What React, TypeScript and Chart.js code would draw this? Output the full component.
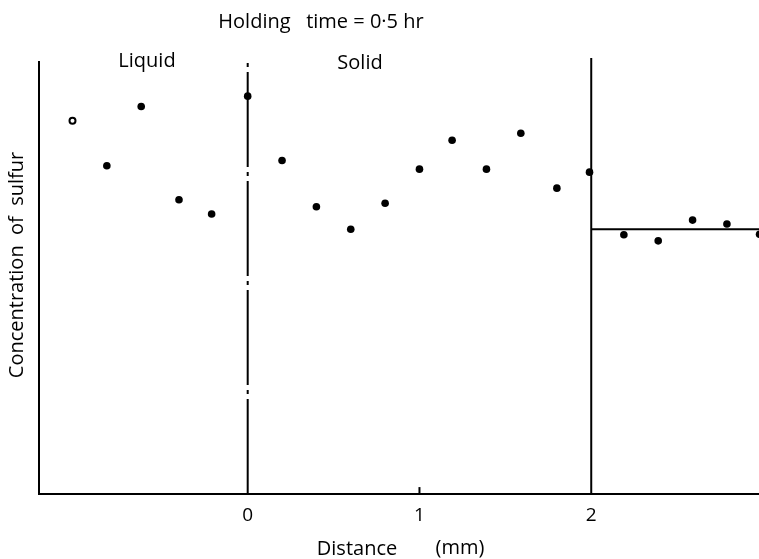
import React, { useEffect, useRef } from "react";
import { Chart, registerables } from "chart.js";

Chart.register(...registerables);

// Distance (mm) and sulfur concentration (relative units) for each sample
const liquidOpenX = [-1.02];
const liquidOpenY = [86.4];

const pointX = [-0.82, -0.62, -0.4, -0.21, 0.0, 0.2, 0.4, 0.6, 0.8, 1.0, 1.19, 1.39, 1.59, 1.8, 1.99, 2.19, 2.39, 2.59, 2.79, 2.98];
const pointY = [76.0, 89.7, 68.1, 64.8, 92.1, 77.2, 66.5, 61.3, 67.3, 75.2, 81.9, 75.2, 83.5, 70.8, 74.5, 60.0, 58.6, 63.4, 62.5, 60.1];

// Mean level beyond 2 mm
const plateauLevel = 61.3;
const plateauRange = [2.0, 3.0];

// Interface positions (mm)
const interfaceX = 0;
const boundaryX = 2;

const xTicks = [0, 1, 2];
const xMin = -1.215;
const xMax = 3.0;

const FONT = "'Open Sans', Lato, sans-serif";

const textPlugin = {
  id: "figureText",
  afterDraw(chart: Chart) {
    const ctx = chart.ctx;
    ctx.save();
    ctx.fillStyle = "#000";
    ctx.textAlign = "center";
    ctx.textBaseline = "middle";
    ctx.font = `20px ${FONT}`;
    ctx.fillText("Holding   time = 0·5 hr", 321, 22);
    ctx.fillText("Liquid", 147, 61);
    ctx.fillText("Solid", 360, 63);
    ctx.fillText("Distance", 357, 549);
    ctx.fillText("(mm)", 460, 548);
    ctx.translate(17, 265);
    ctx.rotate(-Math.PI / 2);
    ctx.fillText("Concentration  of  sulfur", 0, 0);
    ctx.restore();
  },
};

export default function App() {
  const canvasRef = useRef<HTMLCanvasElement | null>(null);

  useEffect(() => {
    const canvas = canvasRef.current;
    if (!canvas) return;

    const lineStyle = {
      type: "line" as const,
      borderColor: "#000",
      borderWidth: 2,
      pointRadius: 0,
      fill: false,
      tension: 0,
    };

    const chart = new Chart(canvas, {
      type: "scatter",
      data: {
        datasets: [
          {
            ...lineStyle,
            data: [
              { x: interfaceX, y: 0 },
              { x: interfaceX, y: 100 },
            ],
            borderDash: [95, 5, 4, 5],
          },
          {
            ...lineStyle,
            data: [
              { x: boundaryX, y: 0 },
              { x: boundaryX, y: 100.9 },
            ],
            clip: false as any,
          },
          {
            ...lineStyle,
            data: plateauRange.map((x) => ({ x, y: plateauLevel })),
          },
          {
            ...lineStyle,
            data: [
              { x: 1, y: 0 },
              { x: 1, y: 1.6 },
            ],
          },
          {
            type: "scatter" as const,
            data: pointX.map((x, i) => ({ x, y: pointY[i] })),
            backgroundColor: "#000",
            borderColor: "#000",
            pointRadius: 3.8,
            borderWidth: 0,
          },
          {
            type: "scatter" as const,
            data: liquidOpenX.map((x, i) => ({ x, y: liquidOpenY[i] })),
            backgroundColor: "#fff",
            borderColor: "#000",
            pointRadius: 3,
            borderWidth: 2,
          },
        ],
      },
      options: {
        animation: false,
        responsive: false,
        events: [],
        layout: { padding: { top: 62, left: 0, right: 0, bottom: 0 } },
        plugins: {
          legend: { display: false },
          tooltip: { enabled: false },
          title: { display: false },
        },
        scales: {
          x: {
            type: "linear",
            min: xMin,
            max: xMax,
            afterBuildTicks: (scale: any) => {
              scale.ticks = xTicks.map((v) => ({ value: v }));
            },
            afterFit: (scale: any) => {
              scale.height = 65;
            },
            grid: { display: false, drawTicks: false },
            border: { display: true, color: "#000", width: 2 },
            ticks: {
              color: "#000",
              font: { family: FONT, size: 19 },
              padding: 10,
              maxRotation: 0,
              autoSkip: false,
            },
          },
          y: {
            type: "linear",
            min: 0,
            max: 100,
            afterFit: (scale: any) => {
              scale.width = 39;
            },
            grid: { display: false, drawTicks: false },
            border: { display: true, color: "#000", width: 2 },
            ticks: { display: false },
          },
        },
      },
      plugins: [textPlugin],
    });

    return () => chart.destroy();
  }, []);

  return (
    <div
      style={{
        position: "absolute",
        left: 0,
        top: 0,
        width: 759,
        height: 559,
        overflow: "hidden",
        background: "#fff",
      }}
    >
      <canvas ref={canvasRef} width={769} height={559} style={{ display: "block" }} />
    </div>
  );
}
